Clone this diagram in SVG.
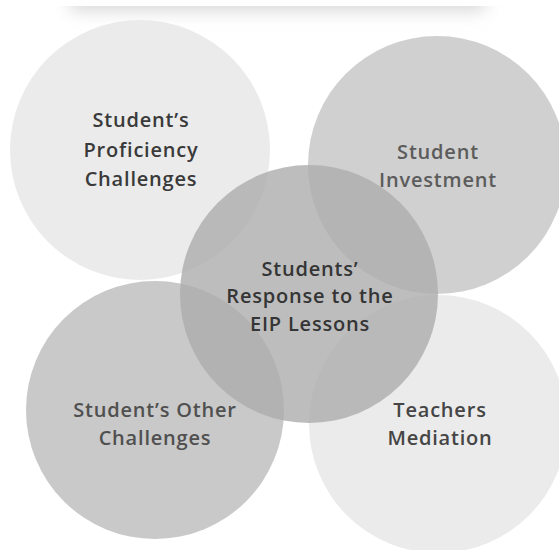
<svg xmlns="http://www.w3.org/2000/svg" width="559" height="550" viewBox="0 0 559 550">
  <defs>
    <filter id="soft" x="-20%" y="-200%" width="140%" height="500%">
      <feGaussianBlur stdDeviation="9"/>
    </filter>
    <clipPath id="below-edge">
      <rect x="0" y="6" width="559" height="60"/>
    </clipPath>
    <style>
      .lbl { font-family: "Open Sans", "Liberation Sans", sans-serif; font-weight: 600; font-size: 20px; text-anchor: middle; letter-spacing: 0.8px; }
    </style>
  </defs>
  <rect width="559" height="550" fill="#ffffff"/>

  <!-- faint shadow band along the top -->
  <g clip-path="url(#below-edge)">
    <rect x="70" y="-14" width="415" height="24" fill="#d4d4d4" filter="url(#soft)"/>
  </g>

  <g id="proficiency">
    <circle cx="140" cy="150" r="130" fill="#ebebeb"/>
    <text class="lbl" fill="#3a3a3a" x="141" y="127">Student’s</text>
    <text class="lbl" fill="#3a3a3a" x="141" y="157">Proficiency</text>
    <text class="lbl" fill="#3a3a3a" x="141" y="186">Challenges</text>
  </g>

  <g id="investment">
    <circle cx="437" cy="165" r="129" fill="#d0d0d0"/>
    <text class="lbl" fill="#5c5c5c" x="438" y="159">Student</text>
    <text class="lbl" fill="#5c5c5c" x="438" y="187">Investment</text>
  </g>

  <g id="mediation">
    <circle cx="438" cy="424" r="129" fill="#ebebeb"/>
    <text class="lbl" fill="#454545" x="440" y="417">Teachers</text>
    <text class="lbl" fill="#454545" x="440" y="445">Mediation</text>
  </g>

  <g id="other-challenges">
    <circle cx="155" cy="410" r="129" fill="#c9c9c9"/>
    <text class="lbl" fill="#505050" x="155" y="417">Student’s Other</text>
    <text class="lbl" fill="#505050" x="155" y="445">Challenges</text>
  </g>

  <g id="response">
    <circle cx="309" cy="294" r="129" fill="#adadad" fill-opacity="0.8"/>
    <text class="lbl" fill="#353535" x="310" y="276">Students’</text>
    <text class="lbl" fill="#353535" x="310" y="303">Response to the</text>
    <text class="lbl" fill="#353535" x="310" y="331">EIP Lessons</text>
  </g>

  <g id="connectors"/>
</svg>
